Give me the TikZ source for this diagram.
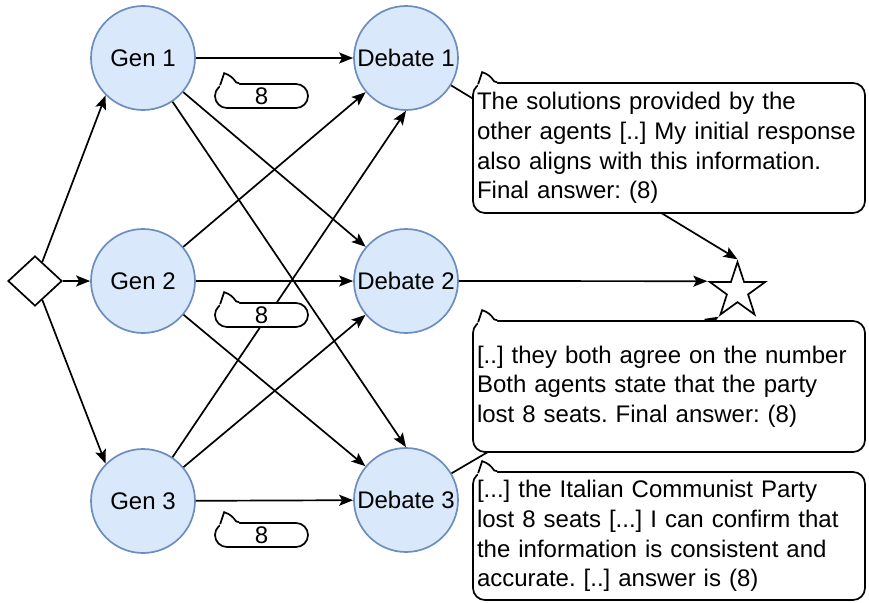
\documentclass[tikz,border=0pt]{standalone}
\usepackage{fontspec}
\setmainfont{Liberation Sans}
\usetikzlibrary{arrows.meta,shapes.geometric,positioning}
\definecolor{agentfill}{HTML}{DAE8FC}
\definecolor{agentline}{HTML}{6C8EBF}
\hyphenpenalty=10000

% little spike on the top left of a speech bubble
\newcommand{\calltail}[1]{%
	\begin{scope}[shift={(#1.north west)}]
		\fill[white] (6,2) .. controls (8,-4) .. (10,-10) .. controls (16,-8) and (19,-5) .. (21,-2) .. controls (22,-0.5) .. (25,0) -- (25,5) -- (6,5) -- cycle;
		\draw (6,2) .. controls (8,-4) .. (10,-10) .. controls (16,-8) and (19,-5) .. (21,-2) .. controls (22,-0.5) .. (25,0);
	\end{scope}}

\begin{document}
\frenchspacing
\begin{tikzpicture}[x=1pt,y=-1pt,line width=1.7pt]%[grow=right]
		\tikzset{agent/.style={circle,draw=agentline,fill=agentfill,minimum size=104pt,inner sep=0pt,
				font=\fontsize{24}{29}\selectfont}}
		\tikzset{flow/.style={-{Stealth[length=14pt,width=11pt,inset=3pt]}}}
		\tikzset{reply/.style={draw,fill=white,rounded corners=12pt,text width=384pt,inner xsep=4pt,
				inner ysep=0pt,align=left,font=\fontsize{24}{29.6}\selectfont}}
		\tikzset{vote/.style={draw,fill=white,rounded corners=12pt,minimum width=93pt,minimum height=24pt,
				inner sep=0pt,font=\fontsize{24}{29}\selectfont}}
		\useasboundingbox (0,0) rectangle (869,602);

		\node[diamond,draw,fill=white,minimum width=54pt,minimum height=50pt,inner sep=0pt] (start) at (35,281) {};
		\node[agent] (gen1) at (143,58) {Gen 1};
		\node[agent] (gen2) at (143,281) {Gen 2};
		\node[agent] (gen3) at (143,501) {Gen 3};
		\node[agent] (deb1) at (406,58) {Debate 1};
		\node[agent] (deb2) at (406,281) {Debate 2};
		\node[agent] (deb3) at (406,500) {Debate 3};
		\node[star,star points=5,star point ratio=2.6,draw,fill=white,minimum size=58pt,inner sep=0pt] (final) at (737.5,291) {};

		\draw[flow] (start) -- (gen1.225);
		\draw[flow] (start) -- (gen2);
		\draw[flow] (start) -- (gen3.135);
		\draw[flow] (gen1) -- (deb1);
		\draw[flow] (gen1) -- (deb2);
		\draw[flow] (gen1) -- (deb3.north);
		\draw[flow] (gen2) -- (deb1);
		\draw[flow] (gen2) -- (deb2);
		\draw[flow] (gen2) -- (deb3);
		\draw[flow] (gen3) -- (deb1.south);
		\draw[flow] (gen3) -- (deb2);
		\draw[flow] (gen3) -- (deb3);
		\draw[flow] (deb1) -- (final.north);
		\draw[flow] (deb2.east) -- (final.162);
		\draw[flow] (deb3) -- (final.234);

		\node[vote] (vote1) at (261.5,96) {8};
		\node[vote] (vote2) at (261.5,315) {8};
		\node[vote] (vote3) at (261.5,535) {8};
		\node[reply,minimum height=130pt] (reply1) at (669,148) {The solutions provided by the\\other agents [..] My initial response\\also aligns with this information.\\Final answer: (8)};
		\node[reply,minimum height=131pt] (reply2) at (669,386.5) {[..] they both agree on the number\\Both agents state that the party\\lost 8 seats. Final answer: (8)};
		\node[reply,minimum height=128pt] (reply3) at (669,536) {[...] the Italian Communist Party\\lost 8 seats [...] I can confirm that\\the information is consistent and\\accurate. [..] answer is (8)};
		\foreach \b in {vote1,vote2,vote3,reply1,reply2,reply3}
			\calltail{\b};
	\end{tikzpicture}
\end{document}
